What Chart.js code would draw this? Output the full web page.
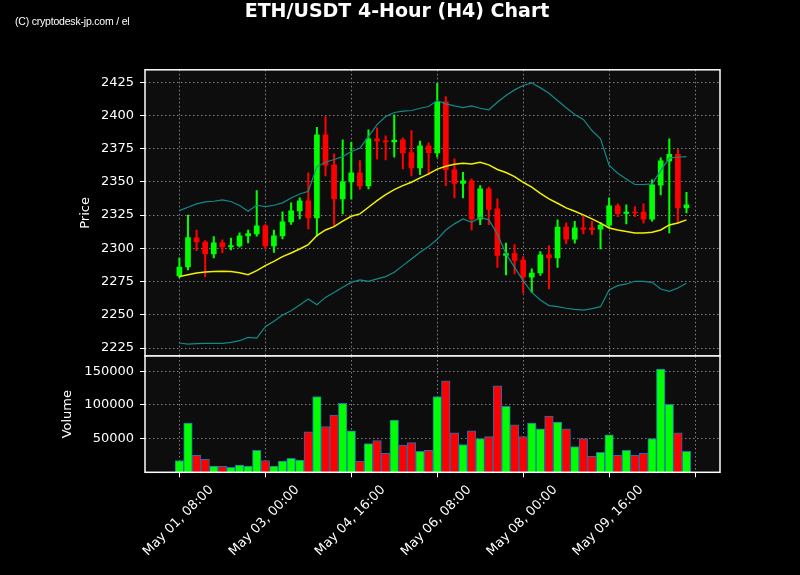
<!DOCTYPE html>
<html lang="en">
<head>
<meta charset="UTF-8">
<title>ETH/USDT 4-Hour (H4) Chart</title>
<script src="https://cdn.jsdelivr.net/npm/chart.js@4.4.0/dist/chart.umd.min.js"></script>
<style>
  body { margin: 0; background: #000; }
  #wrap { position: relative; width: 800px; height: 575px; background: #000; }
  #wrap canvas { position: absolute; left: 0; top: 0; }
  #mark { position: absolute; left: 15px; top: 15px; color: #fff; font: 10.5px "Liberation Sans", Arial, sans-serif; letter-spacing: -0.2px; line-height: 12px; }
</style>
</head>
<body>
<div id="wrap">
  <canvas id="priceChart" width="800" height="575"></canvas>
  <canvas id="volChart" width="800" height="575"></canvas>
  <div id="mark">(C) cryptodesk-jp.com / el</div>
</div>

<script>
// 4h candles from May 01 08:00 (index 0 = first candle)
var tickIdx = [0, 10, 20, 30, 40, 50, 60];
var tickLabels = ['May 01, 08:00', 'May 03, 00:00', 'May 04, 16:00', 'May 06, 08:00', 'May 08, 00:00', 'May 09, 16:00', ''];

var opens = [2279.0, 2285.7, 2308.1, 2305.0, 2295.5, 2304.3, 2300.8, 2301.5, 2309.1, 2310.6,
  2317.1, 2301.5, 2309.1, 2319.6, 2327.9, 2335.9, 2322.6, 2385.6, 2363.0, 2336.9,
  2349.7, 2357.0, 2346.7, 2382.6, 2381.1, 2379.8, 2381.8, 2372.3, 2360.3, 2377.3,
  2371.5, 2410.4, 2359.3, 2348.5, 2351.0, 2321.6, 2345.0, 2329.9, 2294.5, 2296.3,
  2291.5, 2278.0, 2281.2, 2295.3, 2292.5, 2316.3, 2306.6, 2315.6, 2315.6, 2314.1,
  2317.1, 2332.2, 2326.1, 2327.6, 2327.6, 2321.6, 2347.2, 2365.5, 2371.0, 2330.1];
var highs = [2292.8, 2325.1, 2313.8, 2305.8, 2308.8, 2306.3, 2307.8, 2311.6, 2313.8, 2343.4,
  2317.8, 2313.8, 2327.4, 2334.2, 2337.9, 2356.7, 2391.1, 2399.2, 2371.0, 2381.6,
  2379.8, 2366.0, 2389.1, 2390.6, 2384.6, 2400.4, 2383.1, 2388.6, 2380.6, 2379.3,
  2424.2, 2414.2, 2367.3, 2357.2, 2352.2, 2347.2, 2346.0, 2337.2, 2304.0, 2302.8,
  2293.8, 2284.5, 2297.5, 2302.0, 2321.4, 2319.1, 2320.4, 2324.1, 2320.4, 2319.6,
  2337.9, 2333.4, 2332.7, 2331.4, 2333.4, 2351.5, 2368.0, 2382.3, 2374.3, 2342.2];
var lows = [2278.0, 2283.7, 2298.3, 2278.7, 2292.8, 2296.5, 2298.8, 2300.8, 2304.0, 2309.1,
  2299.5, 2297.0, 2307.0, 2318.0, 2322.1, 2314.6, 2309.1, 2354.5, 2317.1, 2325.9,
  2336.9, 2344.4, 2344.7, 2367.3, 2366.5, 2368.5, 2359.8, 2354.5, 2355.5, 2355.5,
  2368.5, 2347.2, 2337.9, 2337.9, 2313.8, 2317.8, 2317.8, 2285.7, 2280.0, 2280.7,
  2266.2, 2266.9, 2279.7, 2269.4, 2285.7, 2303.3, 2303.8, 2310.8, 2310.3, 2299.5,
  2315.8, 2323.9, 2318.4, 2323.9, 2318.9, 2320.4, 2340.2, 2311.6, 2319.6, 2326.6];
var closes = [2286.2, 2308.3, 2304.5, 2295.5, 2304.3, 2300.8, 2302.3, 2309.6, 2311.3, 2317.1,
  2301.5, 2309.6, 2320.1, 2328.4, 2335.9, 2322.6, 2385.6, 2362.3, 2336.9, 2350.2,
  2357.0, 2346.7, 2382.6, 2380.6, 2379.8, 2381.6, 2371.5, 2360.3, 2377.3, 2371.8,
  2410.4, 2359.0, 2348.5, 2351.0, 2321.6, 2345.0, 2329.1, 2294.5, 2296.3, 2290.7,
  2278.0, 2281.7, 2295.3, 2292.5, 2316.3, 2306.6, 2315.6, 2314.1, 2313.8, 2317.8,
  2332.2, 2325.9, 2327.6, 2326.6, 2321.6, 2348.0, 2366.0, 2371.0, 2330.1, 2332.9];
var volumes = [17500, 73300, 25200, 19400, 9200, 8700, 7300, 10700, 9200, 32500,
  17500, 9200, 16500, 20900, 18000, 60200, 112600, 68000, 84900, 102400,
  61600, 16500, 42700, 47100, 28200, 77700, 40300, 44200, 31100, 32500,
  112600, 135900, 58700, 41300, 61600, 50000, 52900, 128600, 98000, 70400,
  52900, 73300, 64600, 83500, 74700, 64600, 38300, 50000, 23800, 29600,
  55800, 25200, 32500, 25200, 28200, 50000, 153400, 101000, 58700, 31100];
// bollinger bands
var bbUpper = [2328.4, 2330.9, 2333.4, 2334.9, 2335.4, 2336.4, 2335.2, 2332.2, 2327.9, 2332.4,
  2331.4, 2332.4, 2334.2, 2337.9, 2340.9, 2342.9, 2361.5, 2364.8, 2366.8, 2369.0,
  2372.8, 2375.3, 2384.1, 2393.1, 2399.2, 2402.2, 2403.2, 2403.7, 2405.4, 2406.7,
  2411.0, 2408.7, 2407.2, 2405.9, 2407.2, 2405.4, 2404.2, 2409.9, 2415.0, 2419.2,
  2422.5, 2424.5, 2420.7, 2416.7, 2411.2, 2405.7, 2400.7, 2397.0, 2388.6, 2382.3,
  2362.3, 2356.5, 2352.2, 2348.0, 2348.0, 2348.5, 2358.5, 2368.0, 2368.5, 2369.0];
var bbMiddle = [2278.7, 2280.2, 2281.5, 2282.2, 2282.5, 2282.7, 2282.5, 2281.7, 2280.2, 2283.2,
  2287.0, 2290.2, 2293.8, 2296.5, 2299.5, 2302.8, 2309.6, 2313.8, 2316.3, 2320.4,
  2324.1, 2325.9, 2330.9, 2335.9, 2340.4, 2344.2, 2347.2, 2349.7, 2353.0, 2356.0,
  2359.6, 2361.8, 2363.3, 2364.0, 2363.5, 2364.8, 2362.8, 2359.3, 2357.0, 2354.0,
  2349.7, 2346.0, 2341.4, 2337.2, 2333.9, 2330.4, 2327.9, 2325.2, 2322.1, 2318.9,
  2315.3, 2313.8, 2312.6, 2311.6, 2311.6, 2312.1, 2313.8, 2317.6, 2319.1, 2321.4];
var bbLower = [2228.8, 2228.0, 2228.3, 2228.5, 2228.5, 2228.5, 2229.3, 2230.5, 2233.0, 2232.5,
  2241.1, 2245.1, 2249.8, 2253.1, 2257.4, 2261.9, 2257.6, 2263.1, 2266.7, 2270.7,
  2274.4, 2276.2, 2275.2, 2277.0, 2278.7, 2282.0, 2287.0, 2292.0, 2297.0, 2301.3,
  2306.8, 2313.8, 2318.4, 2322.1, 2319.6, 2323.4, 2321.4, 2310.8, 2295.8, 2285.7,
  2275.7, 2266.9, 2261.1, 2256.9, 2256.1, 2254.9, 2254.1, 2253.5, 2254.6, 2256.1,
  2268.7, 2271.9, 2273.2, 2275.2, 2275.2, 2274.4, 2269.4, 2267.7, 2270.2, 2273.7];
var priceTicks = [2225, 2250, 2275, 2300, 2325, 2350, 2375, 2400, 2425];
var volTicks = [50000, 100000, 150000];

var UP = '#00ff00', DOWN = '#ff0000';
var FONT = 'DejaVu Sans';
var colors = opens.map(function (o, i) { return closes[i] >= o ? UP : DOWN; });
function pts(arr) { return arr.map(function (v, i) { return { x: i, y: v }; }); }

// dark plot background + white frame
var panel = {
  id: 'panel',
  beforeDraw: function (c) {
    var a = c.chartArea, ctx = c.ctx;
    ctx.save(); ctx.fillStyle = '#0d0d0d';
    ctx.fillRect(a.left, a.top, a.right - a.left, a.bottom - a.top); ctx.restore();
  },
  afterDraw: function (c) {
    var a = c.chartArea, ctx = c.ctx;
    ctx.save(); ctx.strokeStyle = '#ffffff'; ctx.lineWidth = 1.5;
    ctx.strokeRect(a.left, a.top, a.right - a.left, a.bottom - a.top); ctx.restore();
  }
};

function xScale(showLabels) {
  return {
    type: 'linear', min: -4, max: 62.9, offset: false,
    afterBuildTicks: function (s) { s.ticks = tickIdx.map(function (v) { return { value: v }; }); },
    afterFit: function (s) { s.height = showLabels ? 102.7 : 0; },
    grid: { offset: false, color: '#808080', lineWidth: 1, drawTicks: showLabels, tickLength: 5, tickColor: '#ffffff', tickBorderDash: [] },
    border: { display: false, dash: [1.5, 2.5] },
    ticks: {
      display: showLabels, autoSkip: false, maxRotation: 45, minRotation: 45, labelOffset: 32, padding: 5,
      color: '#ffffff', font: { family: FONT, size: 13 },
      callback: function (v) { var k = tickIdx.indexOf(v); return k >= 0 ? tickLabels[k] : ''; }
    }
  };
}

function yScale(title, min, max, ticks, width) {
  return {
    min: min, max: max,
    afterBuildTicks: function (s) { s.ticks = ticks.map(function (v) { return { value: v }; }); },
    afterFit: function (s) { s.width = width; },
    grid: { color: '#808080', lineWidth: 1, tickLength: 5, tickColor: '#ffffff', tickBorderDash: [] },
    border: { display: false, dash: [1.5, 2.5] },
    ticks: { color: '#ffffff', padding: 6, font: { family: FONT, size: 13 },
      callback: function (v) { return String(v); } },
    title: { display: true, text: title, color: '#ffffff', font: { family: FONT, size: 13 }, padding: { top: 4, bottom: 0 } }
  };
}

new Chart(document.getElementById('priceChart'), {
  type: 'bar',
  data: {
    datasets: [
      { type: 'line', data: pts(bbUpper), borderColor: '#138a8a', borderWidth: 1.2, pointRadius: 0, order: 0 },
      { type: 'line', data: pts(bbMiddle), borderColor: '#f2f200', borderWidth: 1.5, pointRadius: 0, order: 0 },
      { type: 'line', data: pts(bbLower), borderColor: '#138a8a', borderWidth: 1.2, pointRadius: 0, order: 0 },
      { data: opens.map(function (o, i) { return { x: i, y: [o, closes[i]] }; }),
        backgroundColor: colors, borderWidth: 0, barPercentage: 0.66, categoryPercentage: 1, grouped: false, order: 1 },
      { data: opens.map(function (o, i) { return { x: i, y: [lows[i], highs[i]] }; }),
        backgroundColor: colors, borderWidth: 0, barThickness: 1.4, grouped: false, order: 2 }
    ]
  },
  options: {
    responsive: false, animation: false,
    layout: { padding: { left: 74, right: 80, top: 0, bottom: 219 } },
    plugins: {
      legend: { display: false }, tooltip: { enabled: false },
      title: { display: true, text: 'ETH/USDT 4-Hour (H4) Chart', color: '#ffffff',
        font: { family: FONT, size: 19, weight: 'bold' }, padding: { top: 1, bottom: 46 } }
    },
    scales: { x: xScale(false), y: yScale('Price', 2219, 2434.3, priceTicks, 71) }
  },
  plugins: [panel]
});

new Chart(document.getElementById('volChart'), {
  type: 'bar',
  data: {
    datasets: [
      { data: pts(volumes), backgroundColor: colors, borderColor: '#1f6fb4', borderWidth: 1,
        barPercentage: 1, categoryPercentage: 1 }
    ]
  },
  options: {
    responsive: false, animation: false,
    layout: { padding: { left: 56, right: 80, top: 356, bottom: 0 } },
    plugins: { legend: { display: false }, tooltip: { enabled: false } },
    scales: { x: xScale(true), y: yScale('Volume', 0, 172800, volTicks, 89) }
  },
  plugins: [panel]
});
</script>
</body>
</html>
